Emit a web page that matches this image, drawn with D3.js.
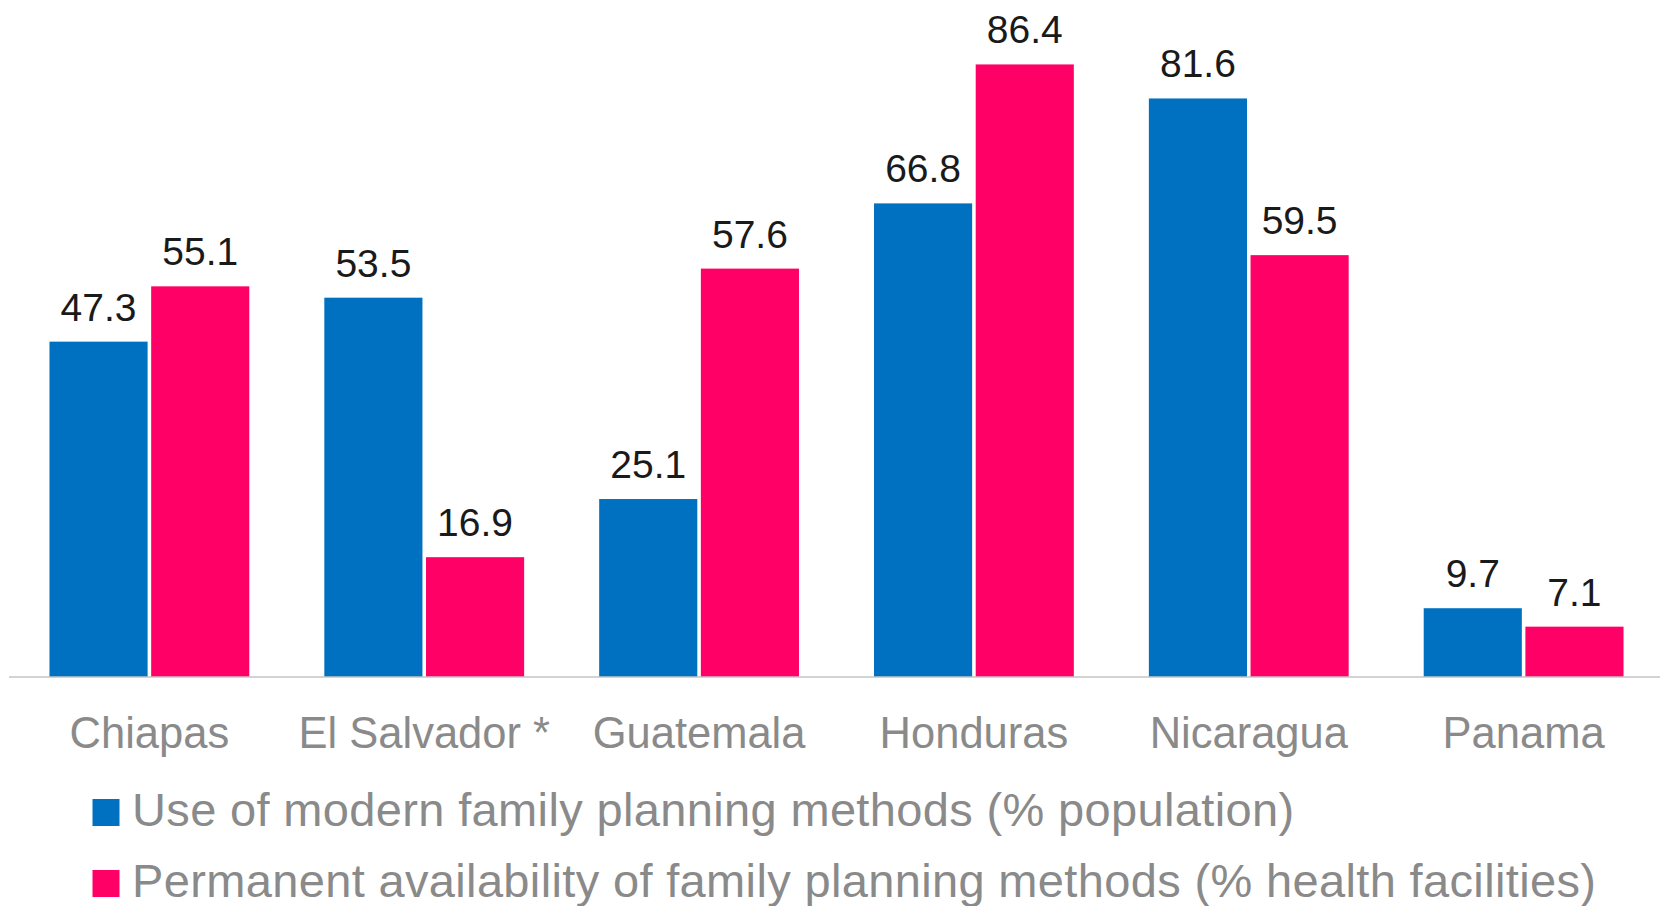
<!DOCTYPE html>
<html>
<head>
<meta charset="utf-8">
<script src="https://cdn.jsdelivr.net/npm/d3@7"></script>
<style>
  html, body { margin: 0; padding: 0; background: #fff; }
  svg { display: block; }
  text { font-family: "Liberation Sans", Arial, Helvetica, sans-serif; }
</style>
</head>
<body>
<svg id="chart" width="1660" height="906"></svg>
<script>
const categories = ["Chiapas", "El Salvador *", "Guatemala", "Honduras", "Nicaragua", "Panama"];
const seriesNames = [
  "Use of modern family planning methods (% population)",
  "Permanent availability of family planning methods (% health facilities)"
];
const useModern = [47.3, 53.5, 25.1, 66.8, 81.6, 9.7];
const availability = [55.1, 16.9, 57.6, 86.4, 59.5, 7.1];
const colors = ["#0070C0", "#FF0066"];

const seriesValues = [useModern, availability];
const rows = categories.map((c, i) => ({
  category: c,
  values: seriesValues.map((vals, s) => ({ series: s, value: vals[i] }))
}));

const svg = d3.select("#chart");
const baseY = 677;

const x0 = d3.scaleBand()
  .domain(categories)
  .range([11, 1662])
  .paddingInner(0.273)
  .paddingOuter(0.14);

const x1 = d3.scaleBand()
  .domain(d3.range(seriesNames.length))
  .range([0, x0.bandwidth()])
  .paddingInner(0.035);

const y = d3.scaleLinear()
  .domain([0, 90])
  .range([baseY, baseY - 90 * 7.09]);

const groups = svg.append("g").selectAll("g")
  .data(rows)
  .join("g")
  .attr("transform", d => `translate(${x0(d.category)},0)`);

groups.selectAll("rect")
  .data(d => d.values)
  .join("rect")
  .attr("x", d => x1(d.series))
  .attr("width", x1.bandwidth())
  .attr("y", d => y(d.value))
  .attr("height", d => y(0) - y(d.value))
  .attr("fill", d => colors[d.series]);

groups.selectAll("text.val")
  .data(d => d.values)
  .join("text")
  .attr("class", "val")
  .attr("x", d => x1(d.series) + x1.bandwidth() / 2)
  .attr("y", d => y(d.value) - 21)
  .attr("text-anchor", "middle")
  .attr("font-size", 39)
  .attr("fill", "#1a1a1a")
  .text(d => d.value.toFixed(1));

// x axis
const xAxis = d3.axisBottom(x0).tickSize(0).tickPadding(0);
const axisG = svg.append("g")
  .attr("transform", `translate(0,${baseY})`)
  .call(xAxis);
axisG.select(".domain").remove();
axisG.append("line")
  .attr("x1", 9).attr("x2", 1660)
  .attr("y1", 0).attr("y2", 0)
  .attr("stroke", "#c4c4c4")
  .attr("stroke-width", 1.6);
axisG.selectAll(".tick text")
  .attr("dy", null)
  .attr("y", 71)
  .attr("font-size", 43.5)
  .attr("font-family", "'Liberation Sans', Arial, Helvetica, sans-serif")
  .attr("fill", "#8a8a8a");

// legend
const legend = svg.append("g").selectAll("g")
  .data(seriesNames)
  .join("g")
  .attr("transform", (d, i) => `translate(0,${i * 71})`);

legend.append("rect")
  .attr("x", 92.5)
  .attr("y", 799)
  .attr("width", 27)
  .attr("height", 27)
  .attr("fill", (d, i) => colors[i]);

legend.append("text")
  .attr("x", 132)
  .attr("y", 825.5)
  .attr("font-size", 47)
  .attr("letter-spacing", 0.35)
  .attr("fill", "#8a8a8a")
  .text(d => d);
</script>
</body>
</html>
